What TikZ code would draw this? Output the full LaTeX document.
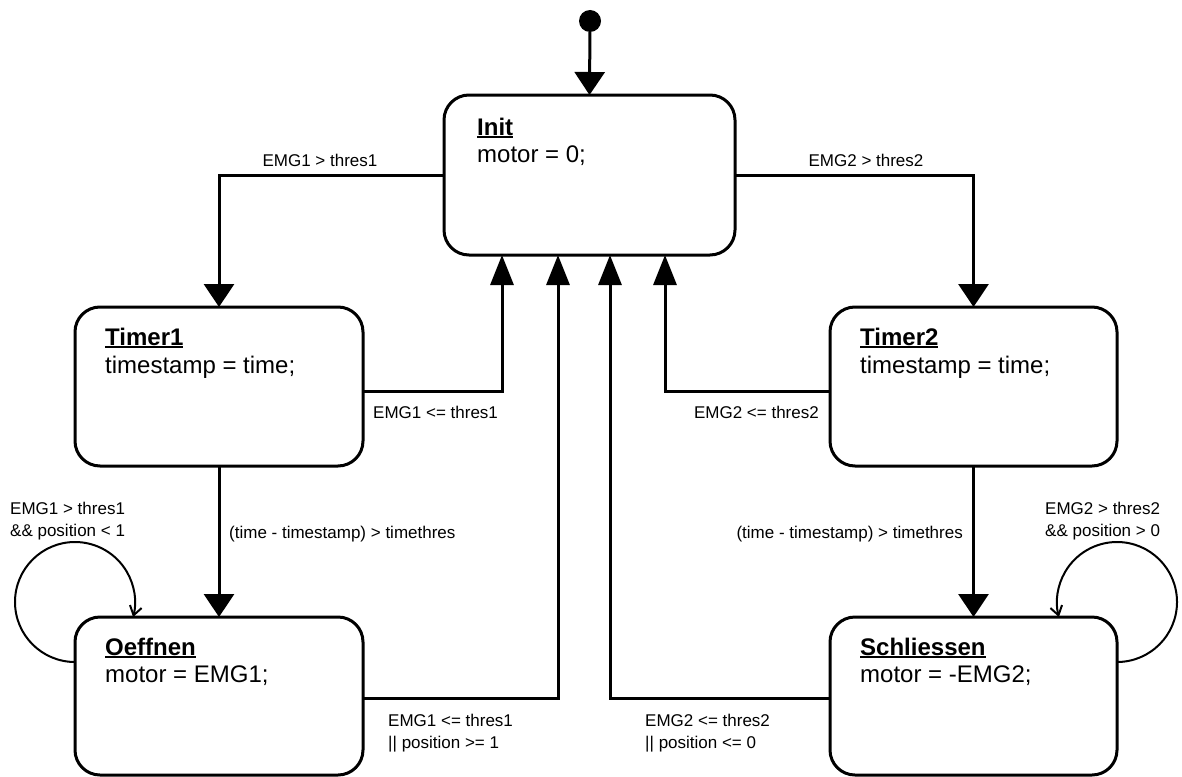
\documentclass[tikz,border=0pt]{standalone}
\usepackage{fontspec}
\setmainfont{Liberation Sans}
\usetikzlibrary{arrows.meta,calc}

% bold state name with a heavy underline
\newcommand{\statetitle}[1]{\setbox0\hbox{\bfseries #1}\rlap{\rule[-3pt]{\wd0}{1.8pt}}\box0}

\begin{document}
\begin{tikzpicture}[x=1pt,y=-1pt,
  state/.style={draw, line width=3pt, rounded corners=25pt, inner sep=0pt, outer sep=0pt, fill=white},
  wire/.style={line width=3pt},
  arrdown/.style={wire, -{Triangle[length=23pt,width=30pt]}},
  arrup/.style={wire, -{Triangle[length=30pt,width=23pt]}},
  selfloop/.style={line width=2pt, -{Straight Barb[length=9pt,width=12pt]}},
  guard/.style={font=\fontsize{17}{21.5}\selectfont, inner sep=0pt, align=left},
  body/.style={font=\fontsize{24}{28}\selectfont, inner sep=0pt, anchor=base west},
]
\useasboundingbox (0,0) rectangle (1182,776);

% states
\node[state, minimum width=291pt, minimum height=160pt] (init) at (589.5,175) {};
\node[state, minimum width=288pt, minimum height=159pt] (t1) at (219,386.5) {};
\node[state, minimum width=287pt, minimum height=159pt] (t2) at (973.5,386.5) {};
\node[state, minimum width=288pt, minimum height=158pt] (oe) at (219,696) {};
\node[state, minimum width=287pt, minimum height=158pt] (sc) at (973.5,696) {};

% state contents
\node[body] (initT) at ($(init.north west)+(33,40)$) {\statetitle{Init}};
\node[body] (initB) at ($(init.north west)+(33,67)$) {motor = 0;};
\node[body] (t1T) at ($(t1.north west)+(30,38)$) {\statetitle{Timer1}};
\node[body] (t1B) at ($(t1.north west)+(30,66)$) {timestamp = time;};
\node[body] (t2T) at ($(t2.north west)+(30,38)$) {\statetitle{Timer2}};
\node[body] (t2B) at ($(t2.north west)+(30,66)$) {timestamp = time;};
\node[body] (oeT) at ($(oe.north west)+(30,38)$) {\statetitle{Oeffnen}};
\node[body] (oeB) at ($(oe.north west)+(30,65)$) {motor = EMG1;};
\node[body] (scT) at ($(sc.north west)+(30,38)$) {\statetitle{Schliessen}};
\node[body] (scB) at ($(sc.north west)+(30,65)$) {motor = -EMG2;};

% initial pseudo-state
\node[circle, fill, inner sep=0pt, minimum size=22pt] (start) at (590,21) {};
\draw[arrdown] (start) -- (init.north);

% leaving Init
\draw[arrdown] (init.west) -| (t1.north);
\draw[arrdown] (init.east) -| (t2.north);
\node[guard, anchor=base] (g1) at (320,166) {EMG1 > thres1};
\node[guard, anchor=base] (g2) at (866,166) {EMG2 > thres2};

% timers to motion states
\draw[arrdown] (t1.south) -- (oe.north);
\draw[arrdown] (t2.south) -- (sc.north);
\node[guard, anchor=base west] (g3) at (229,538) {(time - timestamp) > timethres};
\node[guard, anchor=base east] (g4) at (963,538) {(time - timestamp) > timethres};

% returns to Init
\coordinate (r1) at ($(init.south west)+(58,0)$);
\coordinate (r2) at ($(init.south west)+(114,0)$);
\coordinate (r3) at ($(init.south west)+(166,0)$);
\coordinate (r4) at ($(init.south west)+(221,0)$);
\draw[arrup] ([yshift=-4.5pt]t1.east) -| (r1);
\draw[arrup] ([yshift=-4.5pt]t2.west) -| (r4);
\draw[arrup] ([yshift=-2pt]oe.east) -| (r2);
\draw[arrup] ([yshift=-2pt]sc.west) -| (r3);
\node[guard, anchor=base west] (g5) at (373,418) {EMG1 <= thres1};
\node[guard, anchor=base east] (g6) at (819,418) {EMG2 <= thres2};
% two-line guards: the base anchor sits on the last line
\node[guard, anchor=base west] (g7) at (388,748) {EMG1 <= thres1\\|| position >= 1};
\node[guard, anchor=base west] (g8) at (645,748) {EMG2 <= thres2\\|| position <= 0};

% self-loops
\coordinate (l1) at ($(oe.north west)+(0,45)$);
\coordinate (l2) at ($(sc.north east)+(0,45)$);
\draw[selfloop] (l1) arc[start angle=270, end angle=-14.5, radius=60pt];
\draw[selfloop] (l2) arc[start angle=-90, end angle=194.5, radius=60pt];
\node[guard, anchor=base west] (g9) at (10,536) {EMG1 > thres1\\\&\& position < 1};
\node[guard, anchor=base west] (g10) at (1045,536) {EMG2 > thres2\\\&\& position > 0};
\end{tikzpicture}
\end{document}
